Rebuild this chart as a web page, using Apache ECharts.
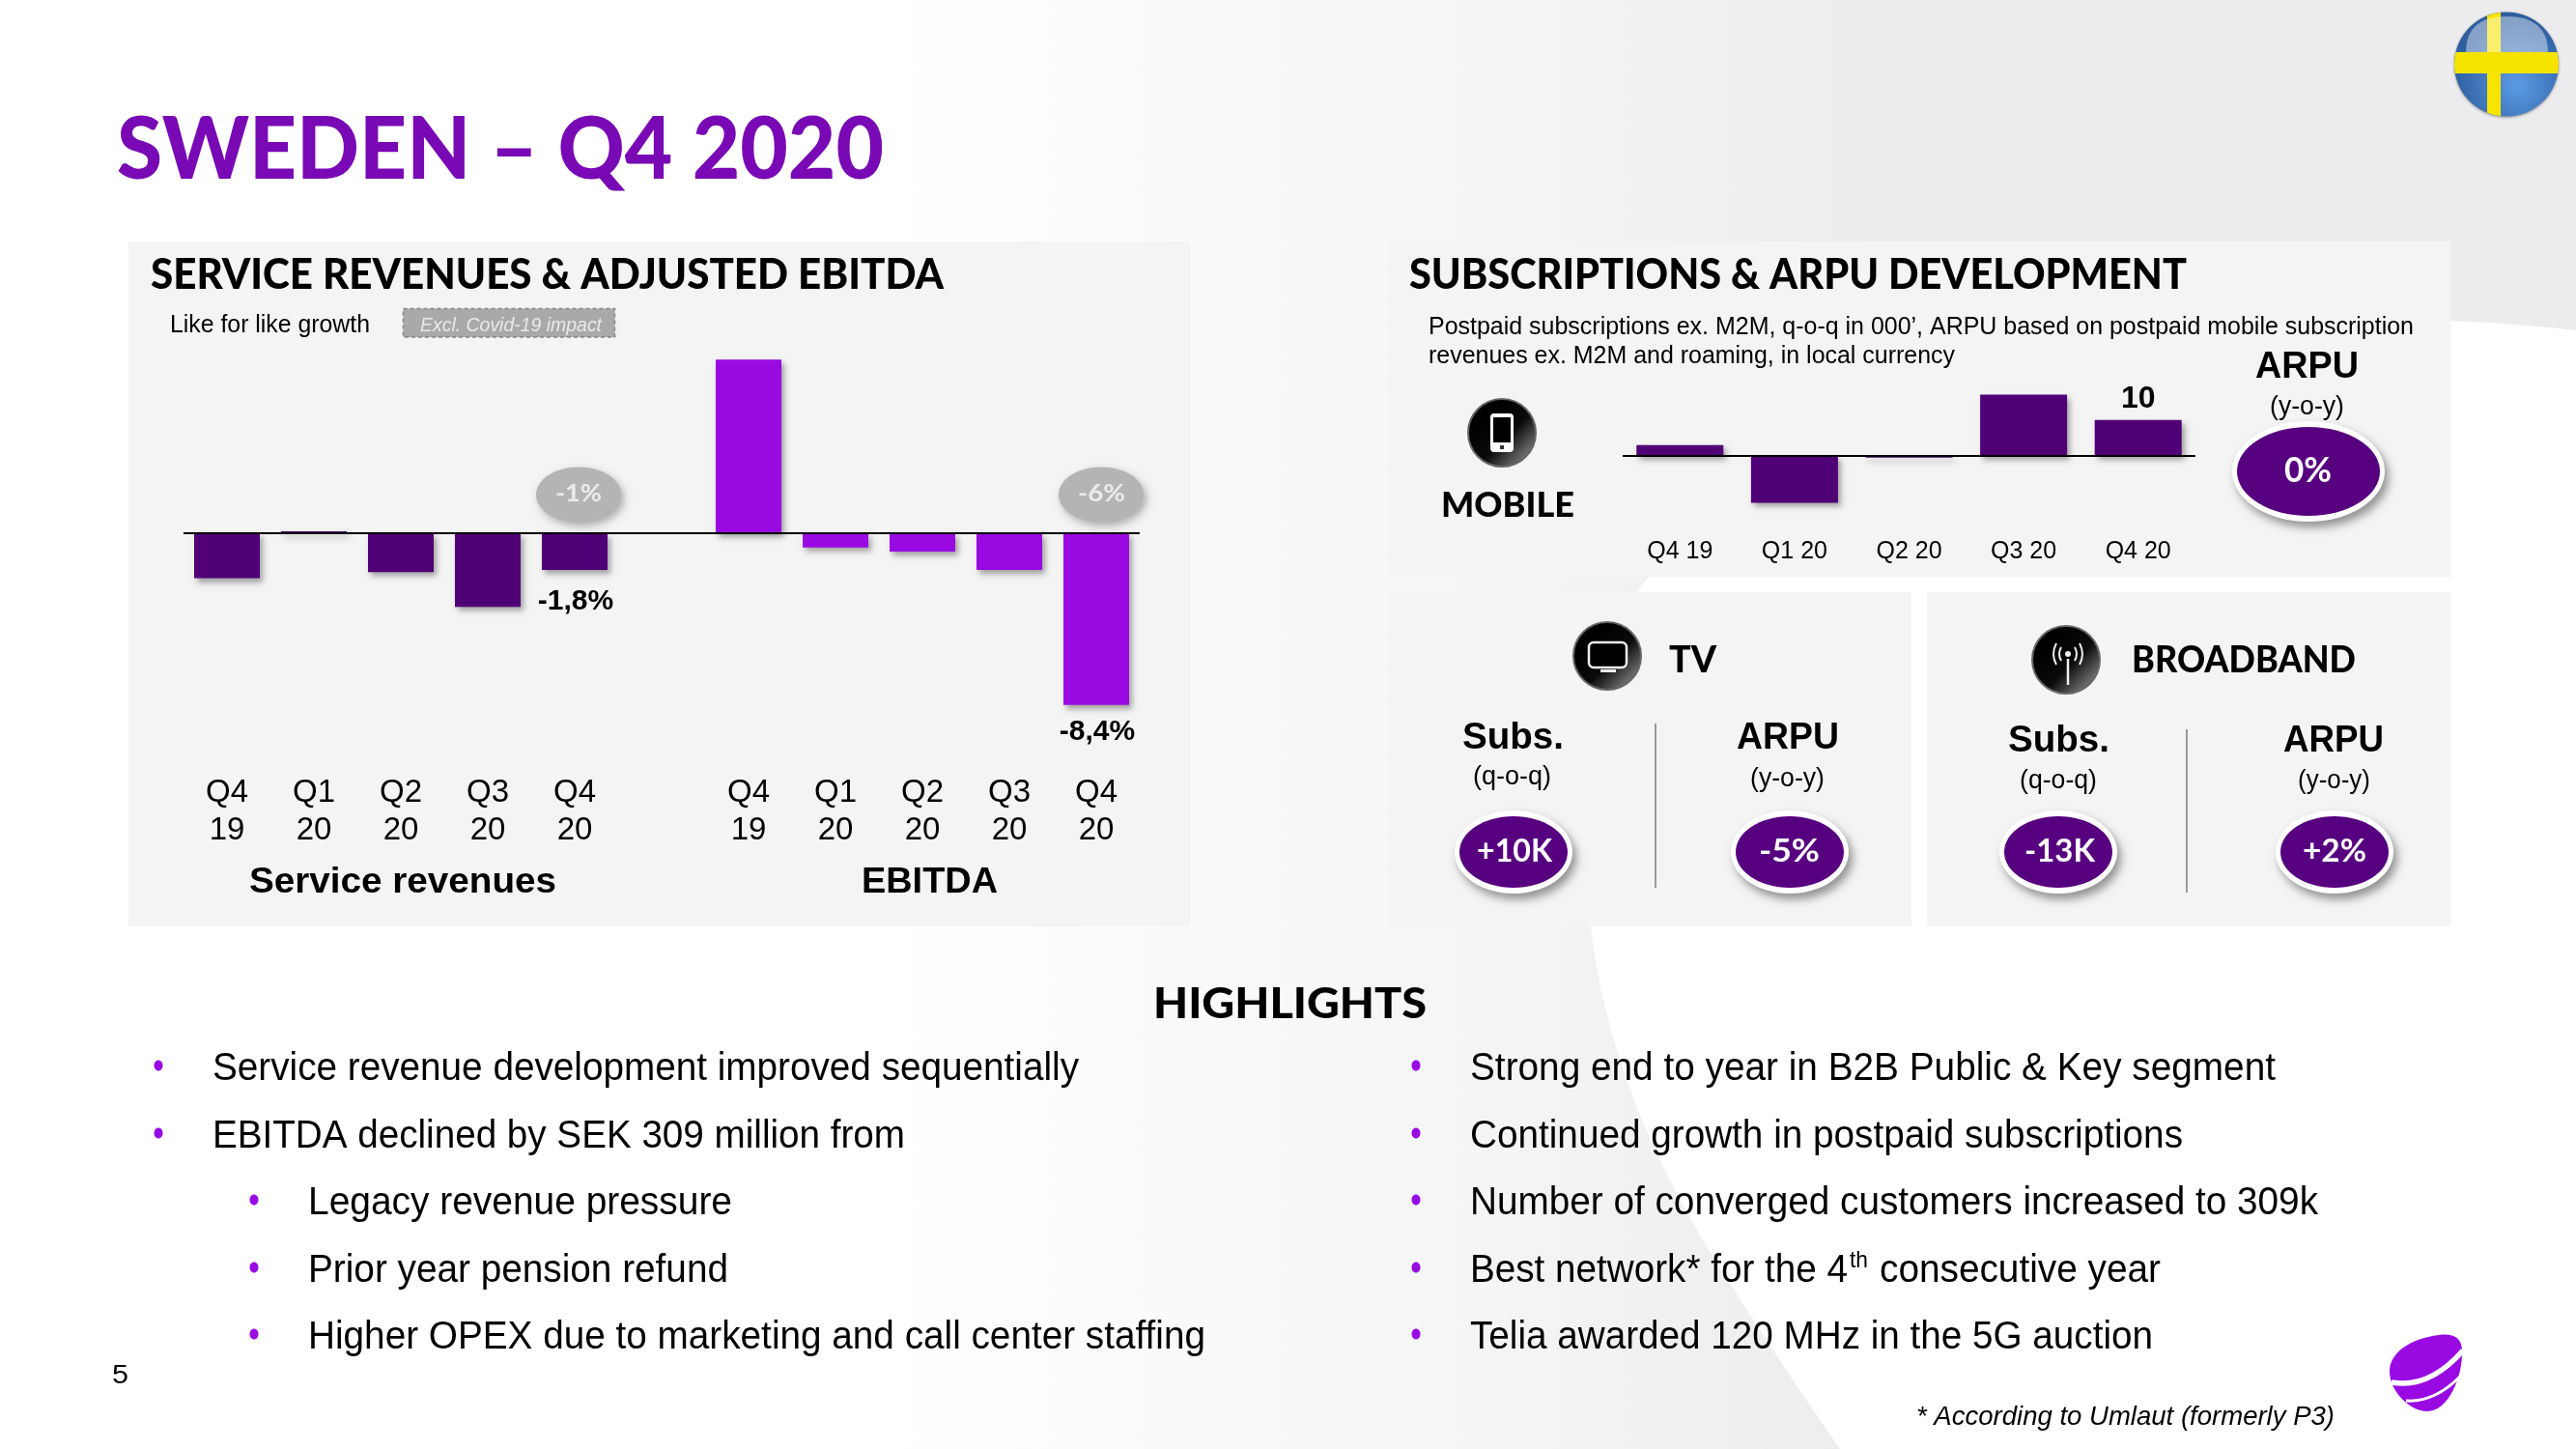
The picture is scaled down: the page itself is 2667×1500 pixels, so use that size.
<!DOCTYPE html>
<html><head><meta charset="utf-8">
<style>html,body{margin:0;padding:0;background:#fff}#c{width:2667px;height:1500px}</style>
<script src="https://cdn.jsdelivr.net/npm/echarts@6/dist/echarts.min.js"></script>
</head><body><div id="c"></div>
<script>
// ---- data ----
const quarters = ['Q4\n19','Q1\n20','Q2\n20','Q3\n20','Q4\n20'];
const serviceRevenues = [-2.2, 0.1, -1.9, -3.6, -1.8];
const ebitda = [8.5, -0.7, -0.9, -1.8, -8.4];
const mobileQuarters = ['Q4 19','Q1 20','Q2 20','Q3 20','Q4 20'];
const mobileSubs = [3, -13, -0.5, 17, 10];
const highlightsLeft = ['Service revenue development improved sequentially','EBITDA declined by SEK 309 million from'];
const highlightsLeftSub = ['Legacy revenue pressure','Prior year pension refund','Higher OPEX due to marketing and call center staffing'];
const highlightsRight = ['Strong end to year in B2B Public & Key segment','Continued growth in postpaid subscriptions','Number of converged customers increased to 309k','Telia awarded 120 MHz in the 5G auction'];

const DEEP='#500076', BRIGHT='#990ae3', HEAD='Lato', BODY='"Liberation Sans"';
const mc=document.createElement('canvas').getContext('2d');
const g=[];
function T(text,x0,x1,y,size,o){o=o||{};
  const w=o.weight||'normal',f=o.family||BODY,st=o.italic?'italic':'normal';
  mc.font=st+' '+w+' '+size+'px '+f;
  const s=(x1-x0)/mc.measureText(text).width;
  g.push({type:'text',x:x0,y:y+(o.dy===undefined?2:o.dy),scaleX:s,silent:true,style:{text:text,fontSize:size,fontWeight:w,fontFamily:f,fontStyle:st,fill:o.color||'#000',align:'left',verticalAlign:'middle',textAlign:'left',textVerticalAlign:'middle'}});
}
const H=(t,a,b,y,s,c)=>T(t,a,b,y,s,{weight:900,family:HEAD,color:c,dy:3});
const V=(t,a,b,y,s,c)=>T(t,a,b,y,s,{weight:'bold',family:HEAD,color:c,dy:0});
const B=(t,a,b,y,s,c)=>T(t,a,b,y,s,{weight:'bold',color:c,dy:3});
function rect(x,y,w,h,fill,extra){g.push(Object.assign({type:'rect',silent:true,shape:{x:x,y:y,width:w,height:h},style:{fill:fill}},extra||{}));}
let pn=0;
function path(d,style){const name='slidePath'+(pn++);echarts.graphic.registerShape(name,echarts.graphic.extendPath(d));g.push({type:name,silent:true,style:style});}
function ell(cx,cy,rx,ry,style){g.push({type:'ellipse',silent:true,shape:{cx:cx,cy:cy,rx:rx,ry:ry},style:style});}
function badge(cx,cy,txt,a,b,rxO,ryO,rxI,ryI,size){
  ell(cx,cy,rxO,ryO,{fill:'#fff',shadowBlur:10,shadowOffsetX:4,shadowOffsetY:6,shadowColor:'rgba(0,0,0,.4)'});
  ell(cx,cy,rxI,ryI,{fill:'#560080'});
  V(txt,a,b,cy-1,size,'#fff');
}
function icon(cx,cy){
  g.push({type:'circle',silent:true,shape:{cx:cx,cy:cy,r:35},style:{stroke:'#666',lineWidth:2,fill:{type:'linear',x:0.25,y:0.25,x2:0.95,y2:0.95,colorStops:[{offset:0,color:'#000'},{offset:.45,color:'#0a0a0a'},{offset:1,color:'#999'}]}}});
}

// background
rect(0,0,2667,1500,{type:'linear',global:true,x:900,y:0,x2:1950,y2:0,colorStops:[{offset:0,color:'#ffffff'},{offset:.55,color:'#f6f6f7'},{offset:1,color:'#ecebed'}]});
path('M2667 342 C2400 310 1900 330 1690 620 C1630 720 1640 880 1647 959 C1660 1070 1700 1190 1794 1333 C1830 1390 1870 1450 1905 1500 L2667 1500 Z',{fill:'#fff'});
// panels
rect(133,250,1100,709,'#f4f4f4');
rect(1437,250,1100,347,'#f4f4f4');
rect(1437,613,542,346,'#f4f4f4');
rect(1995,613,542,346,'#f4f4f4');

// flag
g.push({type:'circle',silent:true,shape:{cx:2595,cy:66.5,r:54},style:{fill:{type:'radial',x:.6,y:.7,r:.6,colorStops:[{offset:0,color:'#5b9be6'},{offset:1,color:'#2f5f9f'}]},shadowBlur:3,shadowColor:'rgba(0,0,0,.4)',shadowOffsetY:1}});
path('M2575 16.3 A54 54 0 0 1 2589 12.8 L2589 120.2 A54 54 0 0 1 2575 116.7 Z',{fill:'#f6e400'});
path('M2542.5 54 L2647.5 54 A54 54 0 0 1 2648.2 76 L2541.8 76 A54 54 0 0 1 2542.5 54 Z',{fill:'#f6e400'});
path('M2553 54 Q2553 17 2595 17 Q2638 17 2638 54 Z',{fill:'rgba(255,255,255,.42)'});

// title
H('SWEDEN \u2013 Q4 2020',121,915,153,90,'#7809b4');
H('SERVICE REVENUES & ADJUSTED EBITDA',156,977,282,44);
H('SUBSCRIPTIONS & ARPU DEVELOPMENT',1459,2264,282,44);

// left panel
T('Like for like growth',176,383,335,25);
rect(417.5,319.5,219,29.5,'#a9a9a9',{});
g[g.length-1].style.stroke='#858585';g[g.length-1].style.lineWidth=1.5;g[g.length-1].style.lineDash=[4,3];
T('Excl. Covid-19 impact',435,623,335,20,{italic:true,color:'#e9e9e9'});
ell(599,512,44,28.5,{fill:'#b4b4b4',shadowBlur:8,shadowOffsetX:3,shadowOffsetY:4,shadowColor:'rgba(0,0,0,.3)'});
ell(1140,512,44,28.5,{fill:'#b4b4b4',shadowBlur:8,shadowOffsetX:3,shadowOffsetY:4,shadowColor:'rgba(0,0,0,.3)'});
V('-1%',575,623,511,25,'#ececec');
V('-6%',1116,1165,511,25,'#ececec');
B('Service revenues',258,576,911,37);
B('EBITDA',892,1033,911,37);

// mobile panel
T('Postpaid subscriptions ex. M2M, q-o-q in 000\u2019, ARPU based on postpaid mobile subscription',1479,2499,337,25);
T('revenues ex. M2M and roaming, in local currency',1479,2024,367,25);
B('ARPU',2335,2442,378,38);
T('(y-o-y)',2350,2427,420,27);
badge(2390,488,'0%',2365,2414,79,52,74,46,36);
icon(1555,448);
rect(1543,428,24,40,'#fff',{});g[g.length-1].shape.r=4;
rect(1546,432,18,26,'#000');
rect(1553,461,4,4,'#333');
H('MOBILE',1492,1630,520,36);

// TV panel
icon(1664,679);
rect(1645,665,39,26,'none');
Object.assign(g[g.length-1].style,{stroke:'#eee',lineWidth:2.5,fill:'#000'});g[g.length-1].shape.r=5;
rect(1657,693,16,3,'#eee');
H('TV',1728,1777,681,37);
B('Subs.',1514,1619,762,38);
T('(q-o-q)',1525,1606,803,27);
B('ARPU',1798,1904,762,38);
T('(y-o-y)',1812,1889,805,27);
rect(1713,749,2,170,'#9a9a9a');
badge(1567,882,'+10K',1529,1607,61,43,56,37,33);
badge(1853,882,'-5%',1821,1884,61,43,56,37,33);

// Broadband panel
icon(2139,683);
const wave={stroke:'#eee',lineWidth:2,fill:'none'};
path('M2141 682 L2141 709',{stroke:'#eee',lineWidth:2.5,fill:'none'});
path('M2134 670 Q2130 677 2134 684 M2129 666 Q2123 677 2129 688 M2148 670 Q2152 677 2148 684 M2153 666 Q2159 677 2153 688',wave);
g.push({type:'circle',silent:true,shape:{cx:2141,cy:677,r:3},style:{fill:'#eee'}});
H('BROADBAND',2207,2439,681,37);
B('Subs.',2079,2184,765,38);
T('(q-o-q)',2091,2171,807,27);
B('ARPU',2364,2468,765,38);
T('(y-o-y)',2379,2454,807,27);
rect(2263,755,2,169,'#9a9a9a');
badge(2131,882,'-13K',2096,2169,61,43,56,37,33);
badge(2417,882,'+2%',2384,2450,61,43,56,37,33);

// highlights
H('HIGHLIGHTS',1194,1477,1037,44);
function dot(x,y){ell(x,y,4.5,5.5,{fill:BRIGHT});}
const LYS=[1105,1175],SYS=[1244,1314,1383],LE=[1117,937],SE=[758,754,1248];
highlightsLeft.forEach((t,i)=>{dot(164,LYS[i]-2);T(t,220,LE[i],LYS[i],40);});
highlightsLeftSub.forEach((t,i)=>{dot(263,SYS[i]-2);T(t,319,SE[i],SYS[i],40);});
const RYS=[1105,1175,1244,1383],RE=[2356,2260,2400,2229];
highlightsRight.forEach((t,i)=>{dot(1466,RYS[i]-2);T(t,1522,RE[i],RYS[i],40);});
dot(1466,1312);
T('Best network* for the 4',1522,1913,1314,40);
T('th',1915,1934,1303,24);
T('consecutive year',1946,2237,1314,40);
T('5',116,133,1423,27);
T('* According to Umlaut (formerly P3)',1984,2417,1465,28,{italic:true});

// Telia logo
path('M2474 1420 C2474 1400 2495 1386 2525 1382 C2540 1380 2549 1385 2549 1398 C2550 1425 2535 1461 2513 1461 C2495 1461 2474 1440 2474 1420 Z',{fill:BRIGHT});
path('M2476 1431 Q2515 1438 2550 1398',{stroke:'#fff',lineWidth:5.5,fill:'none'});
path('M2491 1450 Q2520 1452 2547 1425',{stroke:'#fff',lineWidth:3,fill:'none'});

// ---- chart ----
const none5=[null,null,null,null,null];
const barShadow={shadowColor:'rgba(0,0,0,.35)',shadowBlur:6,shadowOffsetX:3,shadowOffsetY:4};
const pct=p=>p.value.toFixed(1).replace('.',',')+'%';
function lastLabelled(arr,dist){
  return arr.map((v,i)=>i===arr.length-1?{value:v,label:{show:true,position:'bottom',distance:dist,offset:[1,0],formatter:pct,fontFamily:BODY,fontWeight:'bold',fontSize:30,color:'#000'}}:v);
}
const zero={silent:true,symbol:'none',animation:false,label:{show:false},lineStyle:{color:'#000',width:2,type:'solid'},data:[{yAxis:0}]};
const LP=21.15, MP=3.73;
const chart=echarts.init(document.getElementById('c'),null,{renderer:'canvas'});
chart.setOption({
  animation:false,
  backgroundColor:'#fff',
  graphic:{elements:g},
  grid:[
    {left:190,width:990,top:552-9*LP,height:19*LP,containLabel:false},
    {left:1680,width:593,top:472-20*MP,height:35*MP,containLabel:false}
  ],
  xAxis:[
    {type:'category',gridIndex:0,data:quarters.concat(['']).concat(quarters),position:'bottom',
     axisLine:{show:false,onZero:false},axisTick:{show:false},
     axisLabel:{interval:0,margin:38,fontFamily:BODY,fontSize:33,lineHeight:39,color:'#000'}},
    {type:'category',gridIndex:1,data:mobileQuarters,position:'bottom',
     axisLine:{show:false,onZero:false},axisTick:{show:false},
     axisLabel:{interval:0,margin:31,fontFamily:BODY,fontSize:25,color:'#000'}}
  ],
  yAxis:[
    {type:'value',gridIndex:0,min:-10,max:9,interval:1,show:false},
    {type:'value',gridIndex:1,min:-15,max:20,interval:5,show:false}
  ],
  series:[
    {type:'bar',name:'Service revenues',xAxisIndex:0,yAxisIndex:0,barWidth:68,barGap:'-100%',
     data:lastLabelled(serviceRevenues,18).concat([null],none5),
     itemStyle:Object.assign({color:DEEP},barShadow),markLine:zero},
    {type:'bar',name:'EBITDA',xAxisIndex:0,yAxisIndex:0,barWidth:68,barGap:'-100%',
     data:none5.concat([null],lastLabelled(ebitda,13)),
     itemStyle:Object.assign({color:BRIGHT},barShadow)},
    {type:'bar',name:'Mobile subscriptions',xAxisIndex:1,yAxisIndex:1,barWidth:90,
     data:mobileSubs.map((v,i)=>i===mobileSubs.length-1?{value:v,label:{show:true,position:'top',distance:6,formatter:'{c}',fontFamily:BODY,fontWeight:'bold',fontSize:32,color:'#000'}}:v),
     itemStyle:Object.assign({color:DEEP},barShadow),markLine:zero}
  ]
});
</script></body></html>
